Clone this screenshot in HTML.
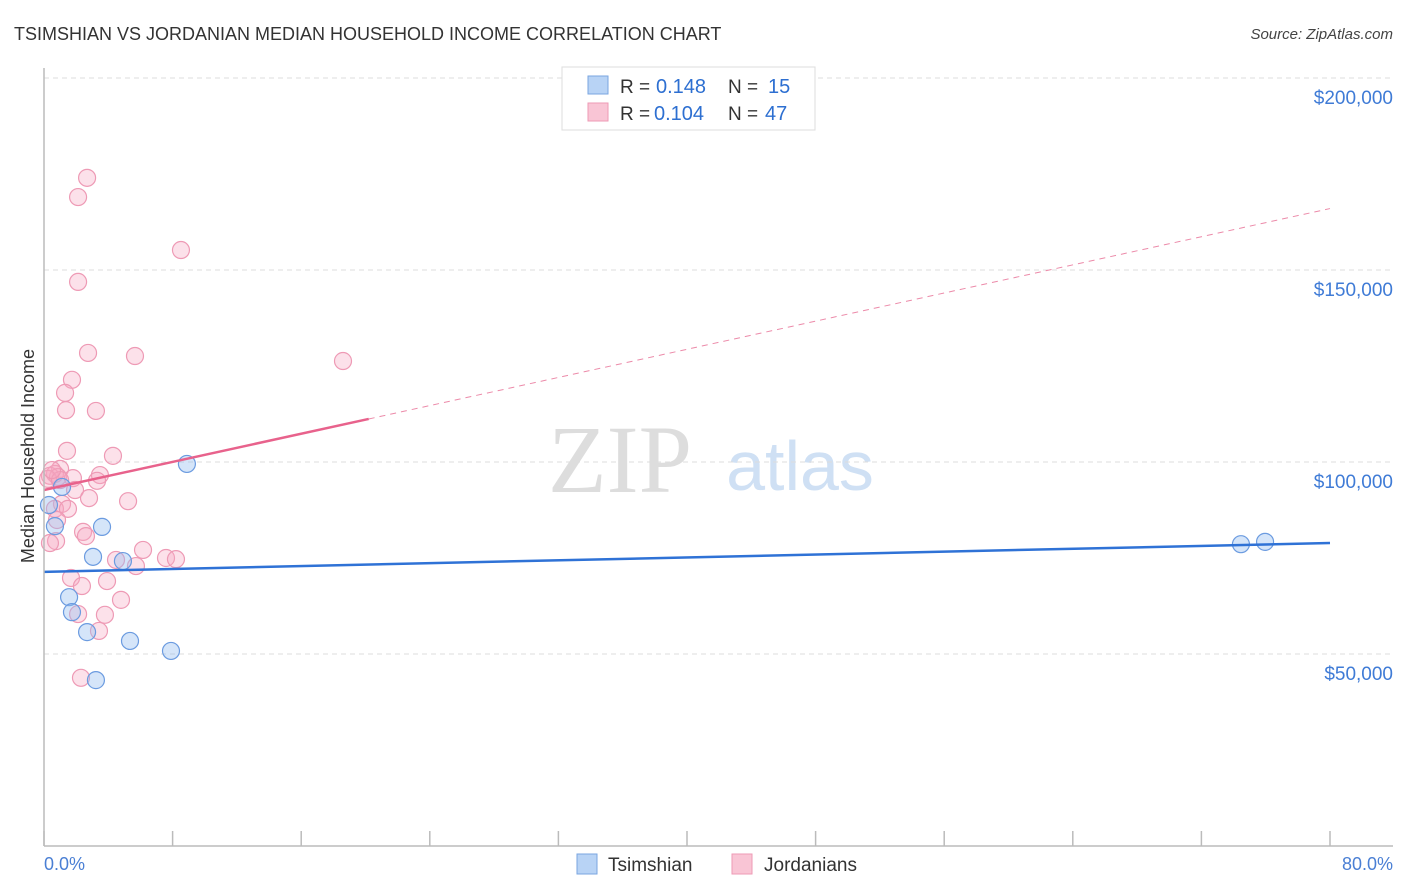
<!DOCTYPE html>
<html><head><meta charset="utf-8"><style>
body{margin:0;background:#fff;font-family:"Liberation Sans",sans-serif;}
#wrap{position:relative;width:1406px;height:892px;overflow:hidden;}
</style></head><body>
<div id="wrap">
<svg id="svg" width="1406" height="892" xmlns="http://www.w3.org/2000/svg">
<text x="14" y="40" font-size="18" fill="#333">TSIMSHIAN VS JORDANIAN MEDIAN HOUSEHOLD INCOME CORRELATION CHART</text>
<text x="1393" y="39" font-size="15" fill="#444" font-style="italic" text-anchor="end">Source: ZipAtlas.com</text>
<text x="620" y="492" font-size="96" fill="#ddd" font-family="Liberation Serif,serif" text-anchor="middle">ZIP</text>
<text x="800" y="490" font-size="70" fill="#cfe0f4" text-anchor="middle">atlas</text>
<text transform="translate(34,456) rotate(-90)" font-size="18" fill="#333" text-anchor="middle">Median Household Income</text>
<g id="grid"></g><g id="marks"></g>
<line x1="44" y1="68" x2="44" y2="846" stroke="#bbb" stroke-width="1.5"/>
<line x1="44" y1="846" x2="1393" y2="846" stroke="#bbb" stroke-width="1.5"/>
<text x="44" y="870" font-size="18" fill="#4a7fd4">0.0%</text>
<text x="1393" y="870" font-size="18" fill="#4a7fd4" text-anchor="end">80.0%</text>
<g>
<rect x="562" y="67" width="253" height="63" fill="#fff" stroke="#ddd"/>
<rect x="588" y="76" width="20" height="18" fill="#b8d3f5" stroke="#7aa6e0"/>
<rect x="588" y="103" width="20" height="18" fill="#f9c5d5" stroke="#ee9ab5"/>
<text x="620" y="93" font-size="19" fill="#333">R =</text>
<text x="656" y="93" font-size="20" fill="#2d6fd1">0.148</text>
<text x="728" y="93" font-size="19" fill="#333">N =</text>
<text x="768" y="93" font-size="20" fill="#2d6fd1">15</text>
<text x="620" y="120" font-size="19" fill="#333">R =</text>
<text x="654" y="120" font-size="20" fill="#2d6fd1">0.104</text>
<text x="728" y="120" font-size="19" fill="#333">N =</text>
<text x="765" y="120" font-size="20" fill="#2d6fd1">47</text>
</g>
<g>
<rect x="577" y="854" width="20" height="20" fill="#b8d3f5" stroke="#7aa6e0"/>
<text x="608" y="871" font-size="19" fill="#333">Tsimshian</text>
<rect x="732" y="854" width="20" height="20" fill="#f9c5d5" stroke="#ee9ab5"/>
<text x="764" y="871" font-size="19" fill="#333">Jordanians</text>
</g>
</svg></div>
<script>
const yTicks=[50,100,150,200];
const yTickLabels=["$50,000","$100,000","$150,000","$200,000"];
const xTicks=[0,8,16,24,32,40,48,56,64,72,80];
const blueX=[0.31,0.68,1.12,1.56,1.74,2.68,3.05,3.61,4.91,5.35,7.90,8.89,3.23,74.46,75.96];
const blueY=[88.8,83.3,93.5,64.8,60.9,55.7,75.3,83.1,74.2,53.4,50.8,99.5,43.2,78.6,79.2];
const pinkX=[2.68,2.12,8.52,2.12,2.74,5.66,18.60,1.74,1.31,1.37,3.23,1.43,4.29,1.00,0.68,0.37,0.87,0.25,1.80,3.48,3.30,1.93,2.80,1.12,0.68,1.49,5.23,0.81,2.43,2.61,0.75,0.37,6.16,4.48,7.59,8.21,5.72,1.68,2.36,3.92,4.79,2.12,3.79,3.42,2.30,1.00,0.50];
const pinkY=[174.0,169.0,155.2,146.9,128.4,127.6,126.3,121.4,118.0,113.5,113.3,102.9,101.6,98.2,96.9,96.4,96.1,95.6,95.8,96.6,95.1,92.7,90.6,89.1,87.8,87.8,89.8,84.9,81.8,80.7,79.4,78.9,77.1,74.5,75.0,74.7,72.9,69.8,67.7,69.0,64.1,60.4,60.2,56.0,43.8,95.3,97.9];
const blueTrend=[71.4,78.9];
const pinkTrend=[92.7,166.0];
const pinkSolidEnd=20.2;
const NS="http://www.w3.org/2000/svg";
const xs=v=>44+v*(1330-44)/80;
const ys=v=>846-v*192/50;
const grid=document.getElementById('grid'),marks=document.getElementById('marks');
function mk(tag,attrs,parent){const e=document.createElementNS(NS,tag);for(const k in attrs)e.setAttribute(k,attrs[k]);parent.appendChild(e);return e;}
yTicks.forEach((t,i)=>{
 const l=mk('line',{x1:44,x2:1393,y1:ys(t),y2:ys(t),stroke:'#ddd','stroke-dasharray':'5,4'},grid);
 
 
 const tx=mk('text',{x:1393,y:ys(t)+26,'font-size':19,fill:'#3f7bd6','text-anchor':'end'},grid);
 tx.textContent=yTickLabels[i];
 
 
});
xTicks.forEach(t=>{
 const l=mk('line',{x1:xs(t),x2:xs(t),y1:846,y2:831,stroke:'#bbb','stroke-width':1.5},grid);
 
 
});
pinkX.forEach((x,i)=>{
 const c=mk('circle',{cx:xs(x),cy:ys(pinkY[i]),r:8.5,fill:'rgba(246,170,195,0.35)',stroke:'#ee9ab5','stroke-width':1.2},marks);
 
 
});
blueX.forEach((x,i)=>{
 const c=mk('circle',{cx:xs(x),cy:ys(blueY[i]),r:8.5,fill:'rgba(150,190,240,0.4)',stroke:'#6b9be0','stroke-width':1.2},marks);
 
 
});
const pv=x=>pinkTrend[0]+(pinkTrend[1]-pinkTrend[0])*x/80;
const bt=mk('line',{x1:xs(0),y1:ys(blueTrend[0]),x2:xs(80),y2:ys(blueTrend[1]),stroke:'#2f72d6','stroke-width':2.5},marks);


const pd=mk('line',{x1:xs(pinkSolidEnd),y1:ys(pv(pinkSolidEnd)),x2:xs(80),y2:ys(pv(80)),stroke:'#ec8aa9','stroke-width':1,'stroke-dasharray':'6,5'},marks);


const ps=mk('line',{x1:xs(0),y1:ys(pv(0)),x2:xs(pinkSolidEnd),y2:ys(pv(pinkSolidEnd)),stroke:'#e8628c','stroke-width':2.5},marks);


</script>
</body></html>
